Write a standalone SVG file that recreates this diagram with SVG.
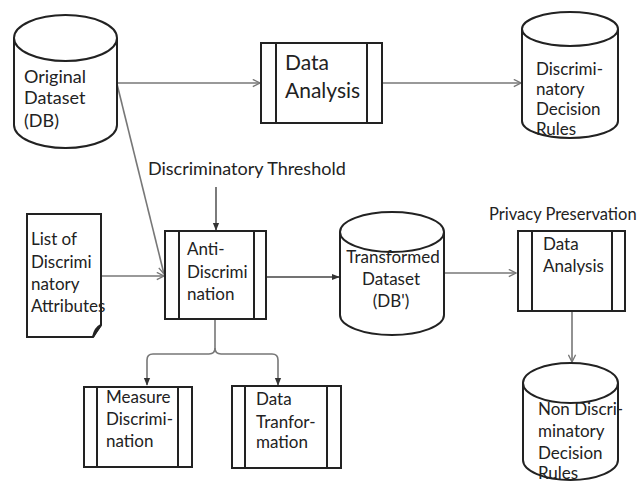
<svg xmlns="http://www.w3.org/2000/svg" width="640" height="482" viewBox="0 0 640 482">
<defs>
<style>
.s{fill:#fff;stroke:#222;stroke-width:2}
.l{fill:none;stroke:#222;stroke-width:2}
.c{fill:none;stroke:#777;stroke-width:1.6}
.cd{fill:none;stroke:#444;stroke-width:1.4}
text{font-family:Lato,"Liberation Sans",sans-serif;font-size:17px;fill:#222}
.big{font-size:21px}
.mid{font-size:18px}
.th{font-size:18px}
.sm{font-size:16.5px}
</style>
<marker id="open" viewBox="0 0 10 10" refX="9" refY="5" markerWidth="9" markerHeight="9" markerUnits="userSpaceOnUse" orient="auto">
<path d="M1,1 L9,5 L1,9" fill="none" stroke="#777" stroke-width="1.5"/>
</marker>
<marker id="fill" viewBox="0 0 10 10" refX="9" refY="5" markerWidth="8" markerHeight="8" markerUnits="userSpaceOnUse" orient="auto">
<path d="M0,1 L10,5 L0,9 Z" fill="#333"/>
</marker>
</defs>
<rect width="640" height="482" fill="#fff"/>

<g id="connectors">
<line class="c" x1="117" y1="83" x2="260" y2="83" marker-end="url(#open)"/>
<line class="c" x1="382" y1="83" x2="521" y2="83" marker-end="url(#open)"/>
<line class="c" x1="117" y1="84" x2="164" y2="274" marker-end="url(#open)"/>
<line class="cd" x1="216" y1="187" x2="216" y2="230" marker-end="url(#fill)"/>
<line class="c" x1="101" y1="276" x2="164" y2="276" marker-end="url(#open)"/>
<line class="cd" x1="267" y1="277" x2="339" y2="277" marker-end="url(#fill)"/>
<line class="c" x1="444" y1="273" x2="516" y2="273" marker-end="url(#open)"/>
<line class="c" x1="572" y1="311" x2="572" y2="362" marker-end="url(#open)"/>
<path class="c" d="M215,319 L215,348 Q215,354 209,354 L153,354 Q147,354 147,360 L147,385" marker-end="url(#fill)"/>
<path class="c" d="M215,348 Q215,354 221,354 L272,354 Q278,354 278,360 L278,385" marker-end="url(#fill)"/>
</g>

<g id="original-dataset">
<path class="s" d="M14,38 L14,125 A51.5,23 0 0 0 117,125 L117,38"/>
<ellipse class="s" cx="65.5" cy="38" rx="51.5" ry="23"/>
<text class="mid" x="24" y="83">Original</text>
<text class="mid" x="24" y="104">Dataset</text>
<text class="mid" x="24" y="127">(DB)</text>
</g>

<g id="data-analysis-1">
<rect class="s" x="261" y="43" width="121" height="80"/>
<line class="l" x1="276" y1="43" x2="276" y2="123"/>
<line class="l" x1="367" y1="43" x2="367" y2="123"/>
<text class="big" x="285" y="70">Data</text>
<text class="big" x="285" y="98">Analysis</text>
</g>

<g id="discriminatory-decision-rules">
<path class="s" d="M522,29 L522,121 A48,17 0 0 0 618,121 L618,29"/>
<ellipse class="s" cx="570" cy="29" rx="48" ry="17"/>
<text x="536" y="75">Discrimi-</text>
<text x="536" y="95">natory</text>
<text x="536" y="115">Decision</text>
<text x="536" y="135">Rules</text>
</g>

<g id="threshold-label">
<text class="th" x="148" y="175">Discriminatory Threshold</text>
</g>

<g id="list-attributes">
<path class="s" d="M27,214 L101,214 L101,325 L93,337 L27,337 Z"/>
<path class="l" d="M93,337 Q95,328 101,325 Q96,331 93,337" stroke-width="1.5"/>
<text x="31" y="245">List of</text>
<text x="31" y="268">Discrimi</text>
<text x="31" y="290">natory</text>
<text x="31" y="312">Attributes</text>
</g>

<g id="anti-discrimination">
<rect class="s" x="165" y="231" width="101" height="88"/>
<line class="l" x1="179" y1="231" x2="179" y2="319"/>
<line class="l" x1="254" y1="231" x2="254" y2="319"/>
<text x="187" y="255">Anti-</text>
<text x="187" y="278">Discrimi</text>
<text x="187" y="300">nation</text>
</g>

<g id="transformed-dataset">
<path class="s" d="M340,232 L340,315 A52,20 0 0 0 444,315 L444,232"/>
<ellipse class="s" cx="392" cy="232" rx="52" ry="20"/>
<text x="393" y="263" text-anchor="middle">Transformed</text>
<text x="391" y="285" text-anchor="middle">Dataset</text>
<text x="391" y="307" text-anchor="middle">(DB')</text>
</g>

<g id="data-analysis-2">
<text class="sm" x="489" y="220">Privacy Preservation</text>
<rect class="s" x="518" y="231" width="107" height="80"/>
<line class="l" x1="532" y1="231" x2="532" y2="311"/>
<line class="l" x1="612" y1="231" x2="612" y2="311"/>
<text x="543" y="250">Data</text>
<text x="543" y="272">Analysis</text>
</g>

<g id="non-discriminatory-rules">
<path class="s" d="M523,383 L523,460 A47.5,20 0 0 0 618,460 L618,383"/>
<ellipse class="s" cx="570.5" cy="383" rx="47.5" ry="20"/>
<text x="538" y="415">Non Discri-</text>
<text x="538" y="437">minatory</text>
<text x="538" y="459">Decision</text>
<text x="538" y="479">Rules</text>
</g>

<g id="measure-discrimination">
<rect class="s" x="84" y="387" width="108" height="80"/>
<line class="l" x1="97" y1="387" x2="97" y2="467"/>
<line class="l" x1="178" y1="387" x2="178" y2="467"/>
<text x="106" y="403">Measure</text>
<text x="106" y="425">Discrimi-</text>
<text x="106" y="447">nation</text>
</g>

<g id="data-transformation">
<rect class="s" x="232" y="386" width="109" height="82"/>
<line class="l" x1="245" y1="386" x2="245" y2="468"/>
<line class="l" x1="327" y1="386" x2="327" y2="468"/>
<text x="256" y="405">Data</text>
<text x="256" y="428">Tranfor-</text>
<text x="256" y="448">mation</text>
</g>
</svg>
